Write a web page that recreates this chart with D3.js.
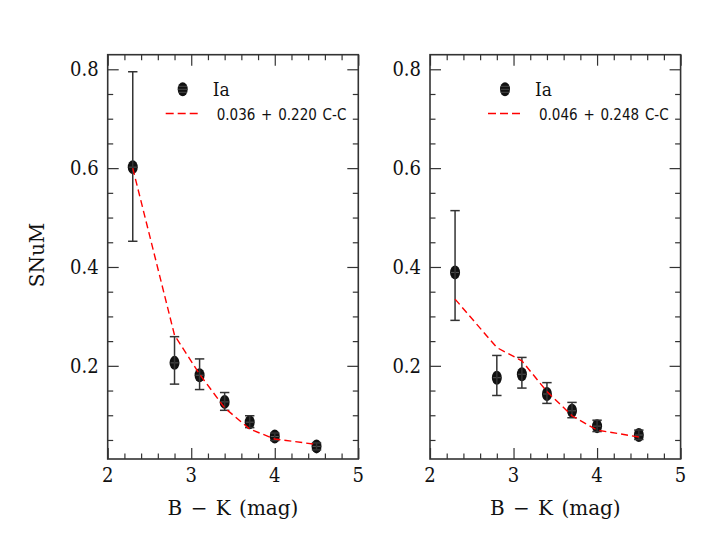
<!DOCTYPE html>
<html>
<head>
<meta charset="utf-8">
<script src="https://cdn.jsdelivr.net/npm/d3@7"></script>
<style>
  body { margin: 0; background: #fff; }
  svg { display: block; }
</style>
</head>
<body>
<div id="chart"></div>
<script>
var width = 715,
    height = 540;

// B - K colour bins
var colour = [2.3, 2.8, 3.1, 3.4, 3.7, 4.0, 4.5];

// left panel
var snumA  = [0.602, 0.206, 0.181, 0.127, 0.086, 0.057, 0.037];
var errLoA = [0.452, 0.163, 0.152, 0.110, 0.075, 0.049, 0.030];
var errHiA = [0.795, 0.259, 0.214, 0.146, 0.099, 0.064, 0.044];
var fitA   = [0.600, 0.262, 0.183, 0.115, 0.072, 0.052, 0.041];

// right panel
var snumB  = [0.389, 0.176, 0.183, 0.143, 0.109, 0.078, 0.060];
var errLoB = [0.292, 0.140, 0.155, 0.124, 0.095, 0.067, 0.051];
var errHiB = [0.514, 0.221, 0.217, 0.166, 0.126, 0.090, 0.070];
var fitB   = [0.335, 0.237, 0.210, 0.148, 0.099, 0.070, 0.056];

var fitLabels = ['0.036 + 0.220 C-C', '0.046 + 0.248 C-C'];
var seriesName = 'Ia';
var yTickLabels = [0.2, 0.4, 0.6, 0.8];
var xTickLabels = [2, 3, 4, 5];

var panelTop = 54.7,
    panelBottom = 459,
    panelWidth = 250.6;

var serif = '"DejaVu Serif Condensed", "DejaVu Serif", serif';

var yScale = d3.scaleLinear()
    .domain([0.0115, 0.8295])
    .range([panelBottom, panelTop]);

var svg = d3.select('#chart').append('svg')
    .attr('width', width)
    .attr('height', height);

var frameColor = '#333';

function drawPanel(left, snum, lo, hi, fit, label, showTitle) {
    var xScale = d3.scaleLinear()
        .domain([2, 5])
        .range([left, left + panelWidth]);

    var g = svg.append('g');

    // inward ticks on all four sides
    var xMinor = d3.range(2, 5.001, 0.2).map(function(d){ return +d.toFixed(1); });
    var yMinor = d3.range(0.05, 0.801, 0.05).map(function(d){ return +d.toFixed(2); });
    var isMajorX = function(d){ return Math.abs(d - Math.round(d)) < 1e-6; };
    var isMajorY = function(d){ return Math.abs(d * 5 - Math.round(d * 5)) < 1e-6; };

    var bottomAxis = d3.axisTop(xScale).tickValues(xMinor).tickFormat('').tickSizeOuter(0);
    var topAxis = d3.axisBottom(xScale).tickValues(xMinor).tickFormat('').tickSizeOuter(0);
    var leftAxis = d3.axisRight(yScale).tickValues(yMinor).tickFormat('').tickSizeOuter(0);
    var rightAxis = d3.axisLeft(yScale).tickValues(yMinor).tickFormat('').tickSizeOuter(0);

    [[bottomAxis, 'translate(0,' + panelBottom + ')', isMajorX],
     [topAxis, 'translate(0,' + panelTop + ')', isMajorX],
     [leftAxis, 'translate(' + left + ',0)', isMajorY],
     [rightAxis, 'translate(' + (left + panelWidth) + ',0)', isMajorY]].forEach(function(a, i){
        var ax = g.append('g')
            .attr('transform', a[1])
            .call(a[0]);
        ax.select('.domain').remove();
        ax.selectAll('.tick line')
            .attr('stroke', frameColor)
            .attr('stroke-width', 1.2)
            .each(function(d){
                var len = a[2](d) ? 11 : 5.5;
                var sel = d3.select(this);
                if (i < 2) sel.attr('y2', i === 0 ? -len : len);
                else sel.attr('x2', i === 2 ? len : -len);
            });
    });

    // frame
    g.append('rect')
        .attr('x', left)
        .attr('y', panelTop)
        .attr('width', panelWidth)
        .attr('height', panelBottom - panelTop)
        .attr('fill', 'none')
        .attr('stroke', frameColor)
        .attr('stroke-width', 1.6);

    // tick labels
    g.selectAll('text.ylab')
        .data(yTickLabels)
        .enter().append('text')
        .attr('class', 'ylab')
        .attr('x', left - 9)
        .attr('y', function(d){ return yScale(d); })
        .attr('dy', '0.36em')
        .attr('text-anchor', 'end')
        .style('font-family', serif)
        .style('font-size', '20px')
        .attr('fill', '#111')
        .text(function(d){ return d.toFixed(1); });

    g.selectAll('text.xlab')
        .data(xTickLabels)
        .enter().append('text')
        .attr('class', 'xlab')
        .attr('x', function(d){ return xScale(d); })
        .attr('y', panelBottom + 23)
        .attr('text-anchor', 'middle')
        .style('font-family', serif)
        .style('font-size', '20px')
        .attr('fill', '#111')
        .text(function(d){ return d; });

    g.append('text')
        .attr('x', left + panelWidth / 2)
        .attr('y', 515)
        .attr('text-anchor', 'middle')
        .style('font-family', '"DejaVu Serif", serif')
        .style('font-size', '20px')
        .style('word-spacing', '2px')
        .attr('fill', '#111')
        .text('B \u2212 K (mag)');

    if (showTitle) {
        g.append('text')
            .attr('transform', 'translate(44,255) rotate(-90)')
            .attr('text-anchor', 'middle')
            .style('font-family', '"DejaVu Serif", serif')
            .style('font-size', '20px')
            .attr('fill', '#111')
            .text('SNuM');
    }

    var rows = colour.map(function(c, i){
        return {x: c, y: snum[i], lo: lo[i], hi: hi[i], fit: fit[i]};
    });

    // markers
    var pts = g.selectAll('g.pt')
        .data(rows)
        .enter().append('g')
        .attr('class', 'pt')
        .attr('transform', function(d){ return 'translate(' + xScale(d.x) + ',' + yScale(d.y) + ')'; });

    pts.append('ellipse')
        .attr('rx', 5)
        .attr('ry', 7)
        .attr('fill', '#111');
    pts.append('line')
        .attr('x1', -4).attr('x2', 4)
        .attr('stroke', '#555').attr('stroke-width', 1);

    // error bars
    var eb = g.selectAll('g.err')
        .data(rows)
        .enter().append('g')
        .attr('class', 'err')
        .attr('stroke', '#333')
        .attr('stroke-width', 1.5);

    eb.append('line')
        .attr('x1', function(d){ return xScale(d.x); })
        .attr('x2', function(d){ return xScale(d.x); })
        .attr('y1', function(d){ return yScale(d.lo); })
        .attr('y2', function(d){ return yScale(d.hi); });
    ['lo', 'hi'].forEach(function(k){
        eb.append('line')
            .attr('x1', function(d){ return xScale(d.x) - 4.7; })
            .attr('x2', function(d){ return xScale(d.x) + 4.7; })
            .attr('y1', function(d){ return yScale(d[k]); })
            .attr('y2', function(d){ return yScale(d[k]); });
    });

    // fitted relation
    var line = d3.line()
        .x(function(d){ return xScale(d.x); })
        .y(function(d){ return yScale(d.fit); });

    g.append('path')
        .datum(rows)
        .attr('d', line)
        .attr('fill', 'none')
        .attr('stroke', '#f00')
        .attr('stroke-width', 1.4)
        .attr('stroke-dasharray', '7,4');

    // legend
    var lg = g.append('g')
        .attr('transform', 'translate(' + left + ',0)');

    lg.append('ellipse')
        .attr('cx', 75)
        .attr('cy', 89.3)
        .attr('rx', 5)
        .attr('ry', 7)
        .attr('fill', '#111');
    [-3, 0, 3].forEach(function(dy){
        lg.append('line')
            .attr('x1', 70.5).attr('x2', 79.5)
            .attr('y1', 89.3 + dy).attr('y2', 89.3 + dy)
            .attr('stroke', '#555').attr('stroke-width', 0.8);
    });
    lg.append('text')
        .attr('x', 105)
        .attr('y', 96)
        .style('font-family', serif)
        .style('font-size', '19px')
        .attr('fill', '#111')
        .text(seriesName);

    lg.append('line')
        .attr('x1', 58).attr('x2', 92)
        .attr('y1', 113.5).attr('y2', 113.5)
        .attr('stroke', '#f00')
        .attr('stroke-width', 1.4)
        .attr('stroke-dasharray', '8,4');
    lg.append('text')
        .attr('x', 109)
        .attr('y', 119.5)
        .style('font-family', '"DejaVu Sans Condensed", "DejaVu Sans", sans-serif')
        .style('font-size', '15px')
        .style('word-spacing', '1.5px')
        .attr('fill', '#111')
        .text(label);
}

drawPanel(107.7, snumA, errLoA, errHiA, fitA, fitLabels[0], true);
drawPanel(430, snumB, errLoB, errHiB, fitB, fitLabels[1], false);
</script>
</body>
</html>
